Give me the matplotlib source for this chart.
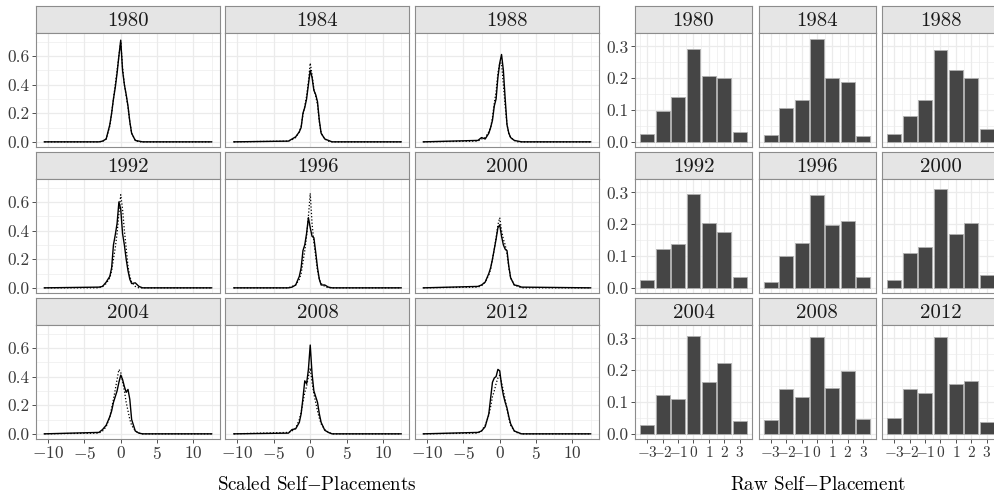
import numpy as np
import matplotlib
matplotlib.use("Agg")
import matplotlib.pyplot as plt
from matplotlib.ticker import FixedLocator, FixedFormatter

plt.rcParams['font.family'] = 'cmr10'
plt.rcParams['mathtext.fontset'] = 'cm'
plt.rcParams['axes.formatter.use_mathtext'] = True

years = [1980, 1984, 1988, 1992, 1996, 2000, 2004, 2008, 2012]

# scaled self-placement densities, read at these x positions
dens_x = [-3, -2.5, -2, -1.5, -1.25, -1, -0.75, -0.5, -0.25, 0,
          0.25, 0.5, 0.75, 1, 1.25, 1.5, 2, 2.5, 3]
dens_lo, dens_hi = -10.5, 12.5

obs_1980 = [0, 0.005, 0.02, 0.12, 0.2, 0.3, 0.38, 0.48, 0.6, 0.71, 0.5, 0.4, 0.33, 0.25, 0.14, 0.06, 0.01, 0.005, 0]
fit_1980 = [0, 0.003, 0.02, 0.11, 0.2, 0.3, 0.4, 0.5, 0.6, 0.7, 0.52, 0.4, 0.32, 0.24, 0.14, 0.06, 0.01, 0, 0]
obs_1984 = [0.005, 0.02, 0.035, 0.07, 0.1, 0.2, 0.24, 0.3, 0.4, 0.5, 0.45, 0.36, 0.33, 0.28, 0.15, 0.06, 0.02, 0.01, 0]
fit_1984 = [0.005, 0.015, 0.03, 0.07, 0.11, 0.19, 0.25, 0.32, 0.42, 0.55, 0.47, 0.37, 0.32, 0.26, 0.14, 0.06, 0.02, 0.005, 0]
obs_1988 = [0.01, 0.03, 0.02, 0.06, 0.1, 0.15, 0.25, 0.3, 0.45, 0.55, 0.61, 0.5, 0.3, 0.12, 0.06, 0.03, 0.01, 0.005, 0]
fit_1988 = [0.005, 0.02, 0.03, 0.07, 0.1, 0.17, 0.27, 0.35, 0.48, 0.55, 0.55, 0.4, 0.25, 0.12, 0.06, 0.03, 0.01, 0, 0]
obs_1992 = [0.005, 0.01, 0.04, 0.08, 0.14, 0.3, 0.37, 0.45, 0.6, 0.55, 0.38, 0.3, 0.2, 0.12, 0.06, 0.03, 0.035, 0.01, 0]
fit_1992 = [0, 0.01, 0.03, 0.07, 0.12, 0.2, 0.28, 0.38, 0.52, 0.65, 0.55, 0.4, 0.28, 0.15, 0.08, 0.04, 0.01, 0, 0]
obs_1996 = [0, 0.005, 0.02, 0.08, 0.14, 0.26, 0.3, 0.38, 0.49, 0.42, 0.36, 0.35, 0.25, 0.14, 0.06, 0.02, 0.02, 0.005, 0]
fit_1996 = [0, 0.01, 0.02, 0.06, 0.1, 0.18, 0.26, 0.36, 0.5, 0.66, 0.45, 0.32, 0.22, 0.12, 0.06, 0.03, 0.01, 0, 0]
obs_2000 = [0.01, 0.02, 0.04, 0.1, 0.14, 0.2, 0.27, 0.34, 0.42, 0.44, 0.36, 0.3, 0.27, 0.26, 0.15, 0.07, 0.02, 0.015, 0.005]
fit_2000 = [0.005, 0.015, 0.04, 0.09, 0.13, 0.2, 0.27, 0.35, 0.44, 0.49, 0.4, 0.34, 0.3, 0.24, 0.14, 0.07, 0.02, 0.01, 0]
obs_2004 = [0.01, 0.03, 0.06, 0.12, 0.16, 0.22, 0.26, 0.3, 0.36, 0.41, 0.38, 0.33, 0.29, 0.31, 0.24, 0.1, 0.02, 0.005, 0]
fit_2004 = [0.005, 0.02, 0.05, 0.12, 0.18, 0.24, 0.31, 0.38, 0.45, 0.43, 0.37, 0.3, 0.22, 0.16, 0.1, 0.06, 0.02, 0.005, 0]
obs_2008 = [0.005, 0.03, 0.035, 0.08, 0.14, 0.25, 0.37, 0.35, 0.45, 0.62, 0.42, 0.3, 0.26, 0.22, 0.14, 0.08, 0.025, 0.01, 0]
fit_2008 = [0.01, 0.02, 0.04, 0.1, 0.15, 0.22, 0.29, 0.33, 0.4, 0.46, 0.36, 0.28, 0.22, 0.16, 0.11, 0.07, 0.03, 0.01, 0]
obs_2012 = [0.01, 0.02, 0.05, 0.14, 0.25, 0.36, 0.39, 0.4, 0.45, 0.44, 0.34, 0.27, 0.22, 0.18, 0.12, 0.07, 0.02, 0.01, 0]
fit_2012 = [0.005, 0.02, 0.06, 0.13, 0.19, 0.26, 0.3, 0.35, 0.39, 0.41, 0.36, 0.3, 0.24, 0.17, 0.11, 0.06, 0.02, 0.005, 0]

obs = [obs_1980, obs_1984, obs_1988, obs_1992, obs_1996, obs_2000, obs_2004, obs_2008, obs_2012]
fit = [fit_1980, fit_1984, fit_1988, fit_1992, fit_1996, fit_2000, fit_2004, fit_2008, fit_2012]

# raw self-placement shares
raw_x = [-3, -2, -1, 0, 1, 2, 3]
raw_1980 = [0.023, 0.096, 0.140, 0.292, 0.207, 0.200, 0.031]
raw_1984 = [0.020, 0.107, 0.132, 0.324, 0.200, 0.187, 0.019]
raw_1988 = [0.023, 0.082, 0.130, 0.290, 0.225, 0.200, 0.039]
raw_1992 = [0.024, 0.121, 0.138, 0.296, 0.204, 0.176, 0.033]
raw_1996 = [0.017, 0.099, 0.142, 0.292, 0.198, 0.210, 0.032]
raw_2000 = [0.024, 0.110, 0.129, 0.312, 0.170, 0.204, 0.040]
raw_2004 = [0.027, 0.121, 0.108, 0.307, 0.161, 0.221, 0.039]
raw_2008 = [0.042, 0.141, 0.114, 0.303, 0.144, 0.196, 0.045]
raw_2012 = [0.048, 0.141, 0.128, 0.304, 0.157, 0.165, 0.038]
raw = [raw_1980, raw_1984, raw_1988, raw_1992, raw_1996, raw_2000, raw_2004, raw_2008, raw_2012]

W, H = 995, 500
fig = plt.figure(figsize=(W / 100, H / 100), dpi=100)

grid_c = '#EBEBEB'
border_c = '#8C8C8C'
tick_c = '#3A3A3A'


def px_axes(left, top, w, h):
    return fig.add_axes([left / W, 1 - (top + h) / H, w / W, h / H])


def style(ax, xmaj, xmin, ymaj, ymin, xlab, ylab, show_x, show_y, xsize):
    ax.set_facecolor('white')
    ax.xaxis.set_major_locator(FixedLocator(xmaj))
    ax.xaxis.set_minor_locator(FixedLocator(xmin))
    ax.yaxis.set_major_locator(FixedLocator(ymaj))
    ax.yaxis.set_minor_locator(FixedLocator(ymin))
    ax.grid(True, which='major', color=grid_c, lw=0.9)
    ax.grid(True, which='minor', color=grid_c, lw=0.45)
    ax.set_axisbelow(True)
    for s in ax.spines.values():
        s.set_color(border_c)
        s.set_linewidth(0.8)
    ax.tick_params(which='minor', length=0)
    ax.tick_params(which='major', length=3, width=0.6, color='#333333',
                   labelsize=12.5, labelcolor=tick_c, pad=1.5)
    ax.tick_params(axis='x', which='major', labelsize=xsize)
    if show_x:
        ax.xaxis.set_major_formatter(FixedFormatter(xlab))
    else:
        ax.tick_params(axis='x', which='major', length=0, labelbottom=False)
    if show_y:
        ax.yaxis.set_major_formatter(FixedFormatter(ylab))
    else:
        ax.tick_params(axis='y', which='major', length=0, labelleft=False)


def strip(left, top, w, h, label):
    s = px_axes(left, top, w, h)
    s.set_facecolor('#E5E5E5')
    s.set_xticks([])
    s.set_yticks([])
    for sp in s.spines.values():
        sp.set_color(border_c)
        sp.set_linewidth(0.8)
    s.text(0.5, 0.45, str(label), ha='center', va='center', fontsize=15,
           color='#1A1A1A', transform=s.transAxes)


row_tops = [6, 152, 298]
strip_h, panel_h = 27, 114

left_lefts = [36, 225.5, 415]
left_w = 184
right_lefts = [635, 758.5, 882]
right_w = 117

dx_maj = [-10, -5, 0, 5, 10]
dx_min = [-7.5, -2.5, 2.5, 7.5, 12.5]
dx_lab = ['$-10$', '$-5$', '$0$', '$5$', '$10$']
dy_maj = [0, 0.2, 0.4, 0.6]
dy_min = [0.1, 0.3, 0.5, 0.7]
dy_lab = ['0.0', '0.2', '0.4', '0.6']

rx_maj = raw_x
rx_min = [-3.5, -2.5, -1.5, -0.5, 0.5, 1.5, 2.5, 3.5]
rx_lab = ['$-3$', '$-2$', '$-1$', '$0$', '$1$', '$2$', '$3$']
ry_maj = [0, 0.1, 0.2, 0.3]
ry_min = [0.05, 0.15, 0.25]
ry_lab = ['0.0', '0.1', '0.2', '0.3']

for i, year in enumerate(years):
    r, c = divmod(i, 3)
    top = row_tops[r]

    # left block: densities
    strip(left_lefts[c], top, left_w, strip_h, year)
    ax = px_axes(left_lefts[c], top + strip_h, left_w, panel_h)
    xs = [dens_lo] + dens_x + [dens_hi]
    ax.plot(xs, [0] + fit[i] + [0], color='black', lw=0.9, ls=(0, (1, 1.6)))
    ax.plot(xs, [0] + obs[i] + [0], color='black', lw=1.0)
    ax.set_xlim(-11.65, 13.65)
    ax.set_ylim(-0.036, 0.76)
    style(ax, dx_maj, dx_min, dy_maj, dy_min, dx_lab, dy_lab, r == 2, c == 0, 12.5)

    # right block: raw shares
    strip(right_lefts[c], top, right_w, strip_h, year)
    bx = px_axes(right_lefts[c], top + strip_h, right_w, panel_h)
    bx.bar(raw_x, raw[i], width=0.9, color='#454545', edgecolor='#B0B0B0',
           linewidth=0.6)
    bx.set_xlim(-3.8, 3.8)
    bx.set_ylim(-0.017, 0.342)
    style(bx, rx_maj, rx_min, ry_maj, ry_min, rx_lab, ry_lab, r == 2, c == 0, 11)

fig.text(317 / W, 1 - 485 / H, r'Scaled Self$-$Placements', ha='center',
         va='center', fontsize=13.7, color='black')
fig.text(818 / W, 1 - 485 / H, r'Raw Self$-$Placement', ha='center',
         va='center', fontsize=13.7, color='black')

fig.savefig('out.png', dpi=100, facecolor='white')
